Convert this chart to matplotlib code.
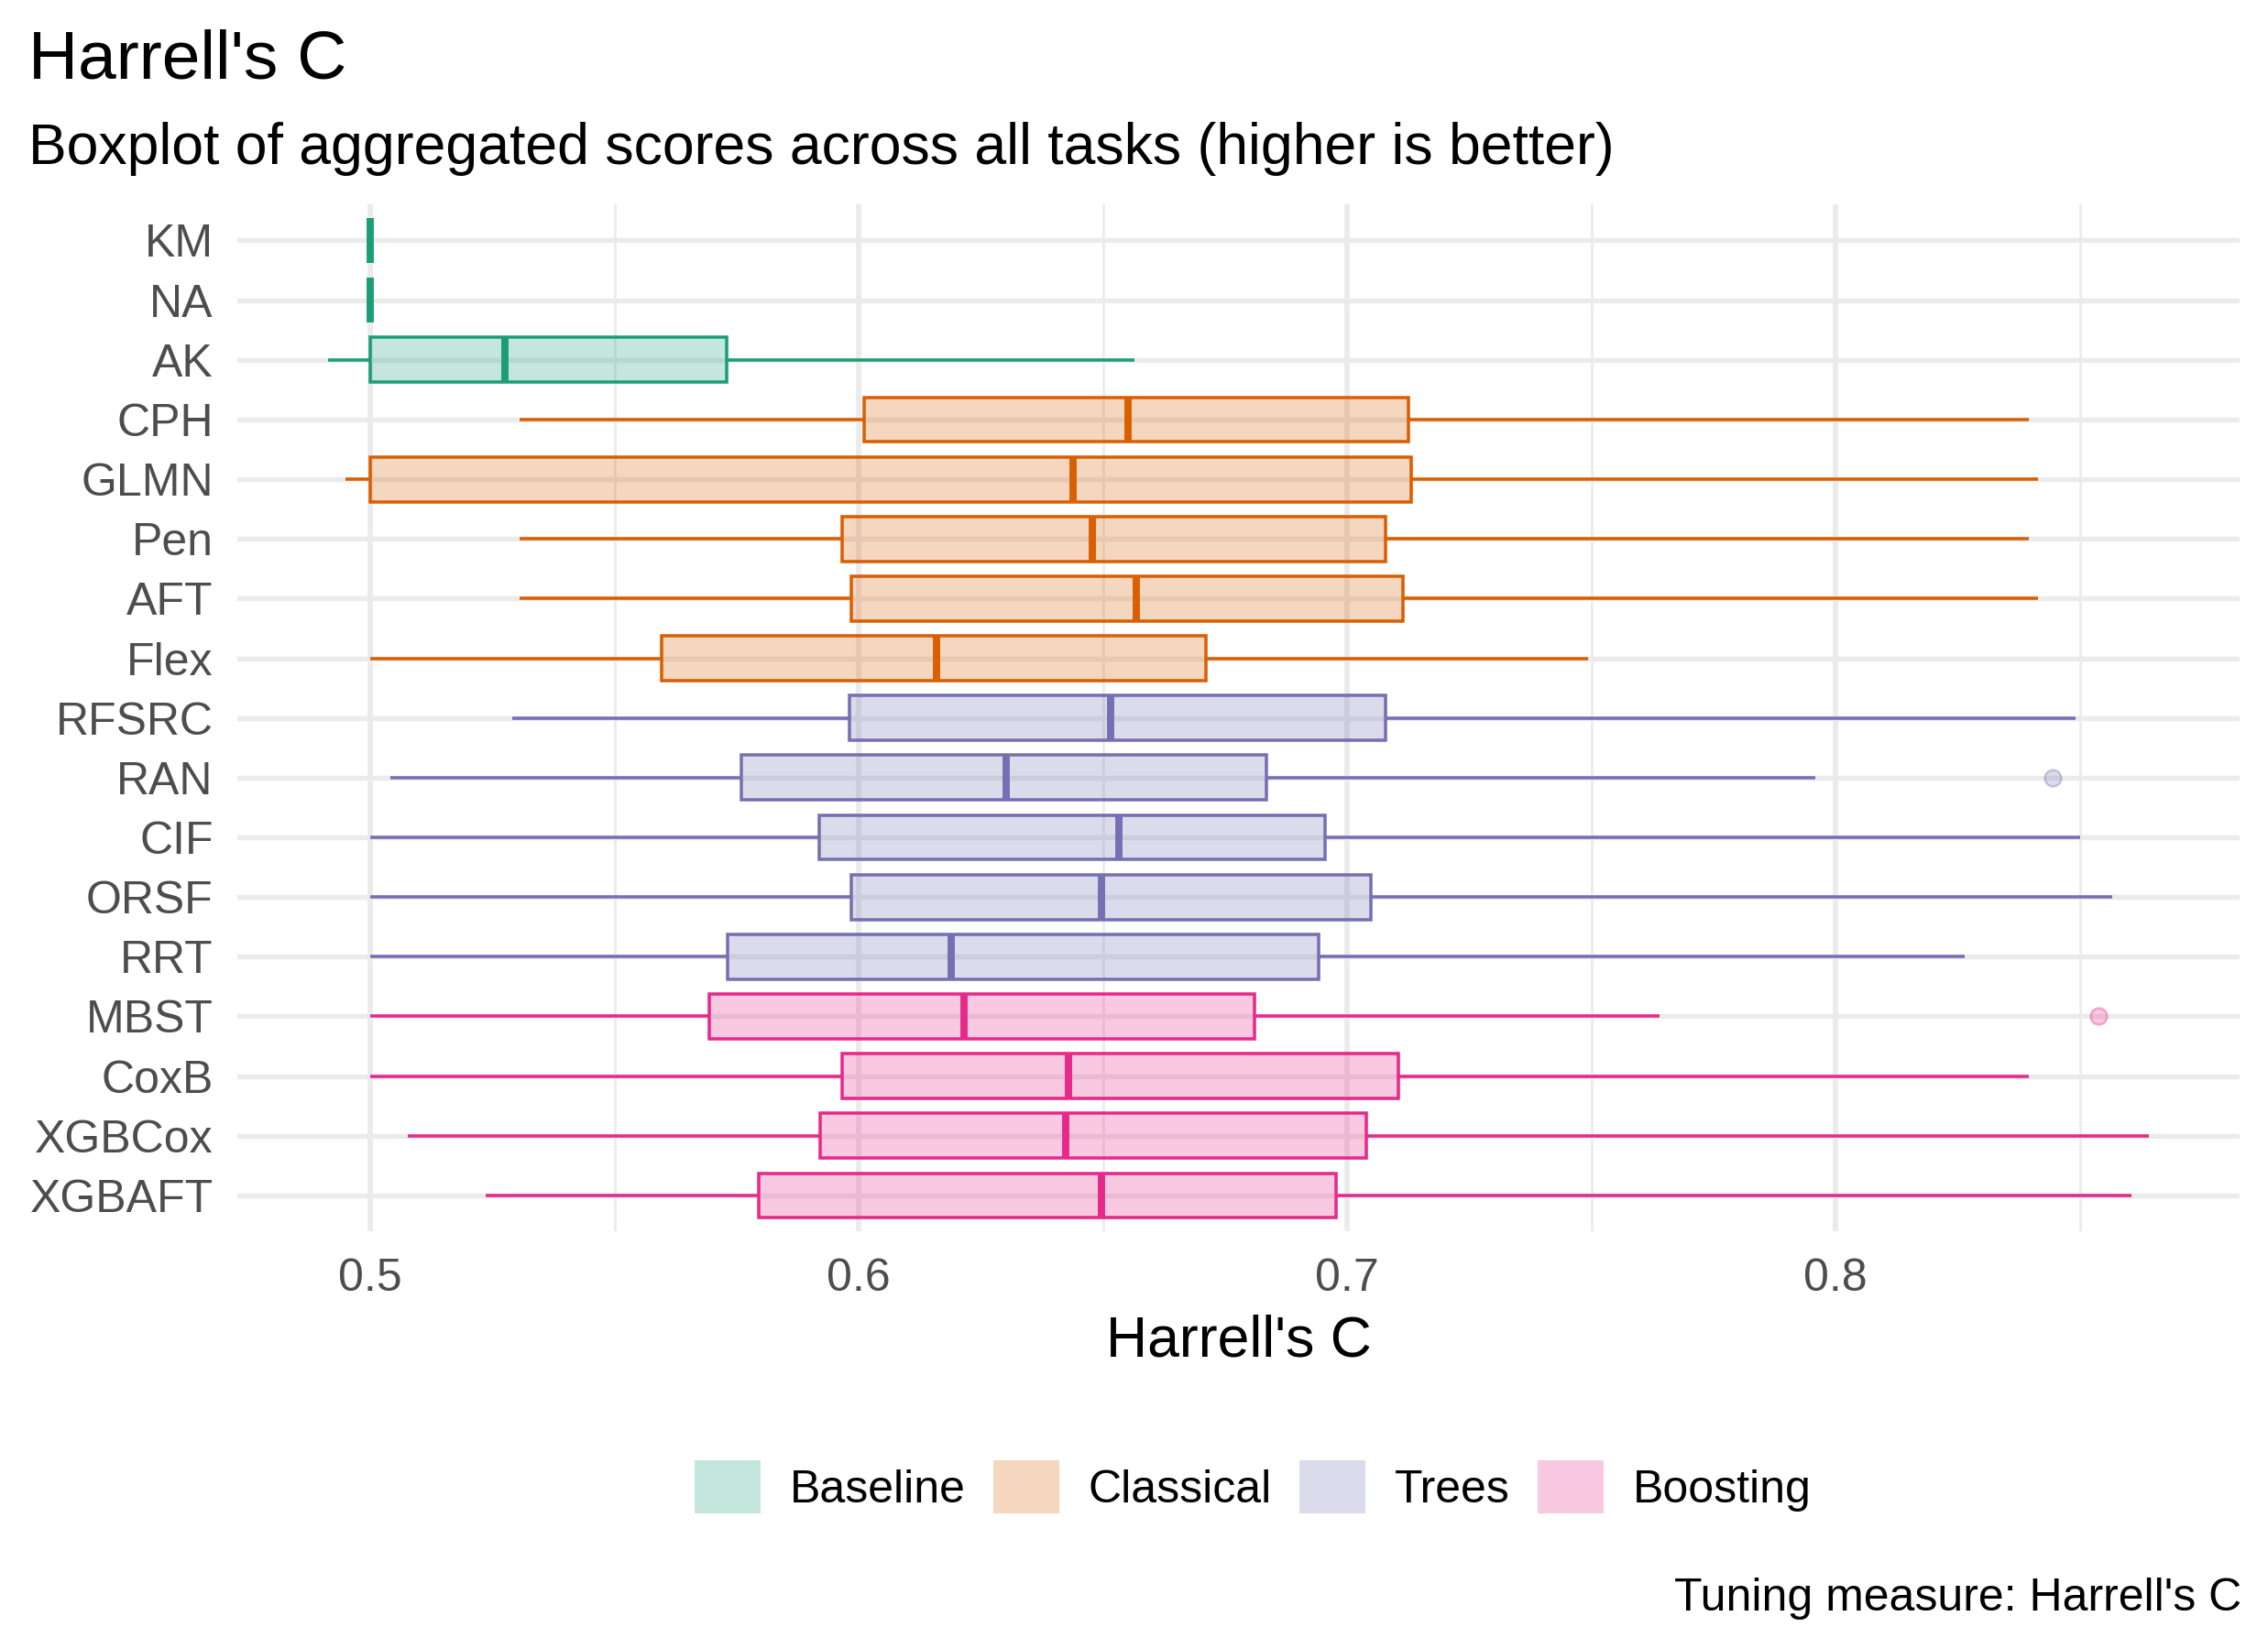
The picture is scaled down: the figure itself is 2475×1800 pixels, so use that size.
import matplotlib
matplotlib.use("Agg")
import matplotlib.pyplot as plt
from matplotlib.patches import Patch
from matplotlib.colors import to_rgba

plt.rcParams['font.family'] = ['Liberation Sans', 'DejaVu Sans']

# ---------------- data ----------------
models = ["KM", "NA", "AK", "CPH", "GLMN", "Pen", "AFT", "Flex", "RFSRC", "RAN",
          "CIF", "ORSF", "RRT", "MBST", "CoxB", "XGBCox", "XGBAFT"]
groups = ["Baseline"] * 3 + ["Classical"] * 5 + ["Trees"] * 5 + ["Boosting"] * 4
whislo = [0.500, 0.500, 0.4914, 0.5305, 0.4950, 0.5305, 0.5305, 0.5000, 0.5290, 0.5042,
          0.5000, 0.5000, 0.5000, 0.5000, 0.5000, 0.5077, 0.5237]
q1 = [0.500, 0.500, 0.5000, 0.6011, 0.5000, 0.5967, 0.5984, 0.5596, 0.5981, 0.5759,
      0.5919, 0.5984, 0.5732, 0.5694, 0.5967, 0.5922, 0.5795]
med = [0.500, 0.500, 0.5276, 0.6551, 0.6438, 0.6479, 0.6568, 0.6159, 0.6515, 0.6302,
       0.6533, 0.6497, 0.6189, 0.6216, 0.6429, 0.6423, 0.6497]
q3 = [0.500, 0.500, 0.5729, 0.7126, 0.7132, 0.7078, 0.7114, 0.6711, 0.7078, 0.6835,
      0.6954, 0.7049, 0.6942, 0.6811, 0.7105, 0.7040, 0.6977]
whishi = [0.500, 0.500, 0.6565, 0.8395, 0.8415, 0.8395, 0.8415, 0.7493, 0.8492, 0.7959,
          0.8501, 0.8567, 0.8264, 0.7639, 0.8395, 0.8641, 0.8606]
outliers = {"RAN": [0.8445], "MBST": [0.8539]}

group_names = ["Baseline", "Classical", "Trees", "Boosting"]
group_colors = {"Baseline": "#1B9E77", "Classical": "#D95F02",
                "Trees": "#7570B3", "Boosting": "#E7298A"}
x_ticks = [0.5, 0.6, 0.7, 0.8]
x_minor = [0.55, 0.65, 0.75, 0.85]

title = "Harrell's C"
subtitle = "Boxplot of aggregated scores across all tasks (higher is better)"
xlabel = "Harrell's C"
caption = "Tuning measure: Harrell's C"

# ---------------- figure ----------------
fig = plt.figure(figsize=(8.25, 6), dpi=300)
ax = fig.add_axes([0.1046, 0.2533, 0.9875 - 0.1046, 0.8759 - 0.2533])

FILL_ALPHA = 0.25
BOX_LW = 0.85
MED_LW = 1.9

for i, m in enumerate(models):
    c = group_colors[groups[i]]
    stats = [dict(med=med[i], q1=q1[i], q3=q3[i], whislo=whislo[i], whishi=whishi[i],
                  fliers=outliers.get(m, []), label=m)]
    kw = dict(positions=[i], widths=0.75, patch_artist=True, showcaps=False,
              boxprops=dict(facecolor=to_rgba(c, FILL_ALPHA), edgecolor=c, linewidth=BOX_LW),
              whiskerprops=dict(color=c, linewidth=BOX_LW, solid_capstyle='butt'),
              medianprops=dict(color=c, linewidth=MED_LW, solid_capstyle='butt'),
              flierprops=dict(marker='o', markersize=4.3, markerfacecolor=to_rgba(c, 0.25),
                              markeredgecolor=to_rgba(c, 0.35), markeredgewidth=0.6,
                              linestyle='none'),
              manage_ticks=False, zorder=3)
    try:
        ax.bxp(stats, orientation='horizontal', **kw)
    except TypeError:
        ax.bxp(stats, vert=False, **kw)

# axes limits (ggplot-like expansion)
lo = min(whislo + [v for vs in outliers.values() for v in vs])
hi = max(whishi + [v for vs in outliers.values() for v in vs])
pad = 0.05 * (hi - lo)
ax.set_xlim(lo - pad, hi + pad)
ax.set_ylim(len(models) - 1 + 0.6, -0.6)

ax.set_xticks(x_ticks)
ax.set_xticklabels([f"{t:g}" for t in x_ticks])
ax.set_xticks(x_minor, minor=True)
ax.set_yticks(range(len(models)))
ax.set_yticklabels(models)

ax.tick_params(axis='both', which='both', length=0)
ax.tick_params(axis='x', which='major', pad=7, labelsize=12, labelcolor='#4D4D4D')
ax.tick_params(axis='y', which='major', pad=6.3, labelsize=12, labelcolor='#4D4D4D')

ax.set_axisbelow(True)
ax.grid(axis='x', which='major', color='#EBEBEB', linewidth=1.4)
ax.grid(axis='x', which='minor', color='#EBEBEB', linewidth=0.65)
ax.grid(axis='y', which='major', color='#EBEBEB', linewidth=1.3)
for s in ax.spines.values():
    s.set_visible(False)

ax.set_xlabel(xlabel, fontsize=15, labelpad=3.7, color='black')

# titles
fig.text(0.0125, 1 - 85 / 1800, title, fontsize=18, ha='left', va='baseline')
fig.text(0.0125, 1 - 179.3 / 1800, subtitle, fontsize=15, ha='left', va='baseline')
fig.text(0.9883, 1 - 1758 / 1800, caption, fontsize=12, ha='right', va='baseline')

# legend
handles = [Patch(facecolor=to_rgba(group_colors[g], FILL_ALPHA), edgecolor='none', label=g)
           for g in group_names]
fig.legend(handles=handles, loc='center', bbox_to_anchor=(0.5525, 1 - 1623 / 1800),
           ncol=4, frameon=False, fontsize=12, handlelength=1.44, handleheight=1.42,
           handletextpad=0.64, columnspacing=0.6, borderpad=0, borderaxespad=0)

fig.savefig("out.png", dpi=300)
